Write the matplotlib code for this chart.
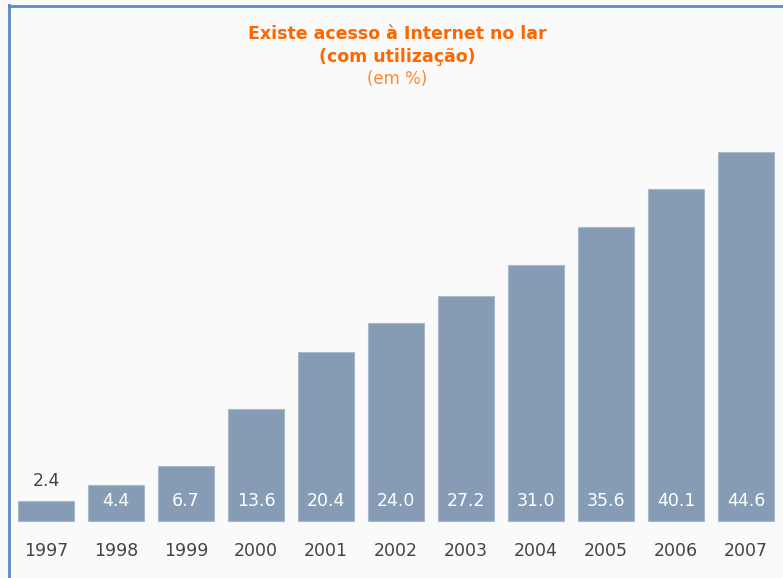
import matplotlib
matplotlib.use("Agg")
import matplotlib.pyplot as plt
from matplotlib.lines import Line2D

years = ["1997", "1998", "1999", "2000", "2001", "2002", "2003", "2004", "2005", "2006", "2007"]
values = [2.4, 4.4, 6.7, 13.6, 20.4, 24.0, 27.2, 31.0, 35.6, 40.1, 44.6]
title_lines = ["Existe acesso à Internet no lar", "(com utilização)", "(em %)"]

W, H = 783, 578
fig = plt.figure(figsize=(W / 100, H / 100), dpi=100)
fig.patch.set_facecolor("#FAFAFA")
ax = fig.add_axes([0, 0, 1, 1])
ax.set_facecolor("#FAFAFA")
for s in ax.spines.values():
    s.set_visible(False)
ax.set_xticks([])
ax.set_yticks([])

# pixel mapping
x0px, dxpx = 46, 70
base_px, ppu = 521, 8.27
ax.set_xlim(-x0px / dxpx, (W - x0px) / dxpx)
ax.set_ylim(-(H - base_px) / ppu, base_px / ppu)

xs = list(range(len(years)))
ax.bar(xs, values, width=0.8, color="#869CB4", edgecolor="#A9B9CB", linewidth=0.8)

lab_y = 20 / ppu
for x, v in zip(xs, values):
    if v * ppu < 30:
        ax.text(x, v + 2.4, f"{v:.1f}", ha="center", va="center", fontsize=12.5, color="#444444")
    else:
        ax.text(x, lab_y, f"{v:.1f}", ha="center", va="center", fontsize=12.5, color="white")
    ax.text(x, -30 / ppu, years[x], ha="center", va="center", fontsize=12.5, color="#444444")

# border lines
fig.add_artist(Line2D([8.5 / W, 8.5 / W], [0, 1 - 5 / H], transform=fig.transFigure, color="#5A88C6", lw=2))
fig.add_artist(Line2D([8.5 / W, 1], [1 - 5.5 / H, 1 - 5.5 / H], transform=fig.transFigure, color="#5A88C6", lw=2))

fig.text(397 / W, 1 - 34 / H, title_lines[0], ha="center", va="center", fontsize=12.5, fontweight="bold", color="#FF6600")
fig.text(397 / W, 1 - 57 / H, title_lines[1], ha="center", va="center", fontsize=12.5, fontweight="bold", color="#FF6600")
fig.text(397 / W, 1 - 79 / H, title_lines[2], ha="center", va="center", fontsize=12, color="#FF8833")

fig.savefig("out.png", dpi=100, facecolor=fig.get_facecolor())
